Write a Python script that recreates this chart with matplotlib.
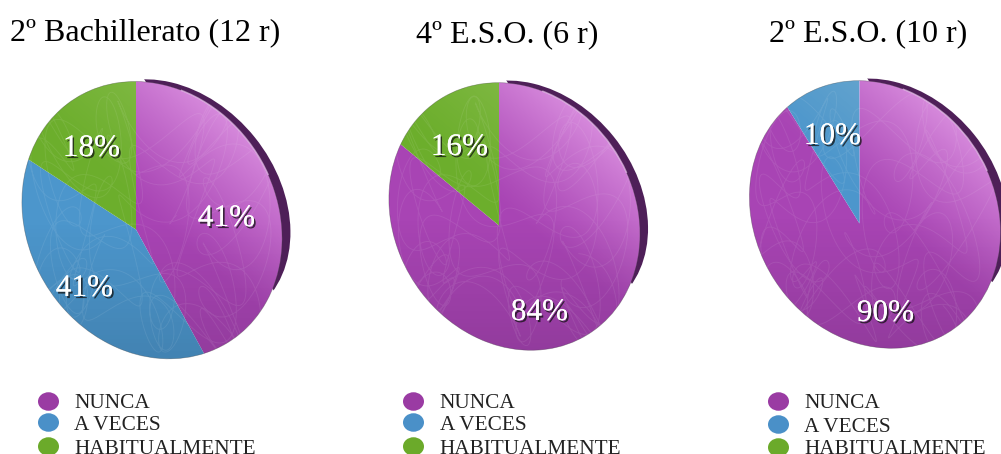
import numpy as np
import matplotlib
matplotlib.use("Agg")
import matplotlib.pyplot as plt
from matplotlib.patches import Ellipse, PathPatch, Polygon
from matplotlib.path import Path
from matplotlib.transforms import Transform
import matplotlib.patheffects as pe

plt.rcParams['font.family'] = ['Liberation Serif', 'DejaVu Serif']
W, H = 1001, 454

titles = ["2º Bachillerato (12 r)", "4º E.S.O. (6 r)", "2º E.S.O. (10 r)"]
categories = ["NUNCA", "A VECES", "HABITUALMENTE"]
series = [[41, 41, 18], [84, 0, 16], [90, 10, 0]]
labels = [["41%", "41%", "18%"], ["84%", "", "16%"], ["90%", "10%", ""]]
colors = ["#A844B4", "#4C96CC", "#6CAE2C"]
legend_colors = ["#9A3BA3", "#4A90C8", "#6BAA2A"]
shadow = "#4E1F58"

# layout in pixels
apex = [(135.5, 229), (498.5, 225), (859, 223)]
scale = [1.0, 0.965, 0.965]
title_xy = [(145, 32), (507, 34), (868, 33)]
label_xy = [[(226, 218), (84, 288), (91, 148)],
            [(539, 312), None, (459, 147)],
            [(885, 313), (832, 136), None]]
legend_x = [(48, 74), (413, 439), (778, 804)]
legend_y = [[401, 422, 446], [401, 422, 446], [401, 424, 447]]
text_y = [[407, 430, 453], [407, 430, 453], [407, 431, 453.5]]
# outer edge of the dark side, relative to the apex
side_edge = np.array([(4.5, -150), (66, -136), (120, -90), (154.5, -9), (153, 18), (137.5, 61)])


def unit_point(cw_deg):
    a = np.radians(cw_deg)
    return np.sin(a), np.cos(a)


def fit_homography(src, dst):
    rows = []
    for (x, y), (u, v) in zip(src, dst):
        rows.append([x, y, 1, 0, 0, 0, -u * x, -u * y, -u])
        rows.append([0, 0, 0, x, y, 1, -v * x, -v * y, -v])
    return np.linalg.svd(np.array(rows))[2][-1].reshape(3, 3)


def fit_ellipse(points):
    x, y = points[:, 0], points[:, 1]
    A, B, C, D, E = np.linalg.lstsq(np.c_[x * x, x * y, y * y, x, y], np.ones(len(x)), rcond=None)[0]
    Q = np.array([[A, B / 2], [B / 2, C]])
    centre = np.linalg.solve(-2 * Q, [D, E])
    val = 1 + centre @ Q @ centre
    w, v = np.linalg.eigh(Q)
    semi = np.sqrt(val / w)
    return centre, semi, np.degrees(np.arctan2(v[1, 0], v[0, 0]))


class Tilt(Transform):
    """Perspective map of the unit-circle pie onto the tilted disc."""
    input_dims = output_dims = 2
    is_affine = False

    def __init__(self, m):
        super().__init__()
        self.m = m

    def transform_non_affine(self, values):
        v = np.asarray(values, float)
        p = np.c_[v, np.ones(len(v))] @ self.m.T
        return p[:, :2] / p[:, 2:]

    def transform_path_non_affine(self, path):
        return Path(self.transform_non_affine(path.vertices), path.codes)


base = fit_homography(
    [(0, 0), (0, 1), unit_point(147.6), unit_point(295.2)],
    [(0, 0), (0, -148), (68, 124), (-107.5, -70)])
side_c, side_r, side_ang = fit_ellipse(side_edge)

fig = plt.figure(figsize=(W / 100, H / 100), dpi=100, facecolor="white")
px = fig.add_axes([0, 0, 1, 1])

yy, xx = np.mgrid[0:H, 0:W]
circle = Path.unit_circle()

for i in range(3):
    s = scale[i]
    ax_, ay_ = apex[i]
    m = np.array([[s, 0, ax_], [0, s, ay_], [0, 0, 1]]) @ base
    tr = Tilt(m) + px.transData

    # dark side of the disc
    side = Ellipse((ax_ + side_c[0] * s, ay_ + side_c[1] * s), 2 * side_r[0] * s, 2 * side_r[1] * s,
                   angle=side_ang, fc=shadow, ec="none", zorder=1)
    px.add_patch(side)
    p0, p1 = side_edge[0] * s, side_edge[-1] * s
    cut = Polygon([(ax_ + p0[0], ay_ + p0[1] - 6), (ax_ + 320, ay_ + p0[1] - 6), (ax_ + 320, ay_ + p1[1]),
                   (ax_ + p1[0], ay_ + p1[1])], transform=px.transData, fc="none", ec="none")
    px.add_patch(cut)
    side.set_clip_path(cut)

    wedges, _ = px.pie(series[i], colors=colors, startangle=90, counterclock=False,
                       wedgeprops=dict(linewidth=0, zorder=2))
    for w in wedges:
        w.set_transform(tr)

    # lighting across the face: one dark layer, one light layer
    cx, cy = ax_ + 16 * s, ay_ - 9 * s
    d = np.clip((yy - cy) / (140 * s), 0, 1)
    dark = np.zeros((H, W, 4))
    dark[..., 3] = 0.13 * d
    u = np.clip(((xx - cx) * 0.65 - (yy - cy) * 0.76) / (140 * s), 0, 1)
    right = xx >= ax_
    light = np.ones((H, W, 4))
    light[..., 1] = np.where(right, 0.78, 1.0)
    light[..., 2] = np.where(right, 1.0, 0.85)
    light[..., 3] = np.where(right, 0.6, 0.2) * u ** 1.2
    for layer, z in ((dark, 3), (light, 3.1)):
        im = px.imshow(layer, extent=(-0.5, W - 0.5, H - 0.5, -0.5), aspect="auto", zorder=z,
                       interpolation="nearest")
        im.set_clip_path(circle, tr)

    # faint scribble texture
    t = np.linspace(0, 46, 3000)
    sx = 0.72 * np.sin(0.7 * t + i) + 0.22 * np.sin(5.3 * t)
    sy = 0.72 * np.cos(1.1 * t + 1 + i) + 0.22 * np.sin(7.1 * t + i)
    scr, = px.plot(sx, sy, color="white", alpha=0.08, lw=0.7, zorder=4, transform=tr)
    scr.set_clip_path(circle, tr)

    # rim
    px.add_patch(PathPatch(circle, fc="none", ec="#444444", lw=0.5, alpha=0.4, zorder=5, transform=tr))
    px.add_patch(PathPatch(Path.arc(28, 72), fc="none", ec="#F6D0FA", lw=1.1, alpha=0.6, zorder=5, transform=tr))

    for xy, lab in zip(label_xy[i], labels[i]):
        if xy:
            txt = px.text(xy[0], xy[1], lab, color="white", fontsize=22.5, ha="center", va="center", zorder=6)
            txt.set_path_effects([pe.withSimplePatchShadow(offset=(1.2, -1.5), shadow_rgbFace="#111111", alpha=0.75),
                                  pe.Normal()])
    px.text(title_xy[i][0], title_xy[i][1], titles[i], color="black", fontsize=23, ha="center", va="center")
    for k_, cat in enumerate(categories):
        px.add_patch(Ellipse((legend_x[i][0], legend_y[i][k_]), 21, 18.5, fc=legend_colors[k_], ec="none"))
        px.text(legend_x[i][1], text_y[i][k_], cat, color="#222222", fontsize=15.3, ha="left", va="baseline")

px.set_aspect("auto")
px.set_xlim(-0.5, W - 0.5)
px.set_ylim(H - 0.5, -0.5)
px.axis("off")
fig.savefig("out.png", dpi=100)
